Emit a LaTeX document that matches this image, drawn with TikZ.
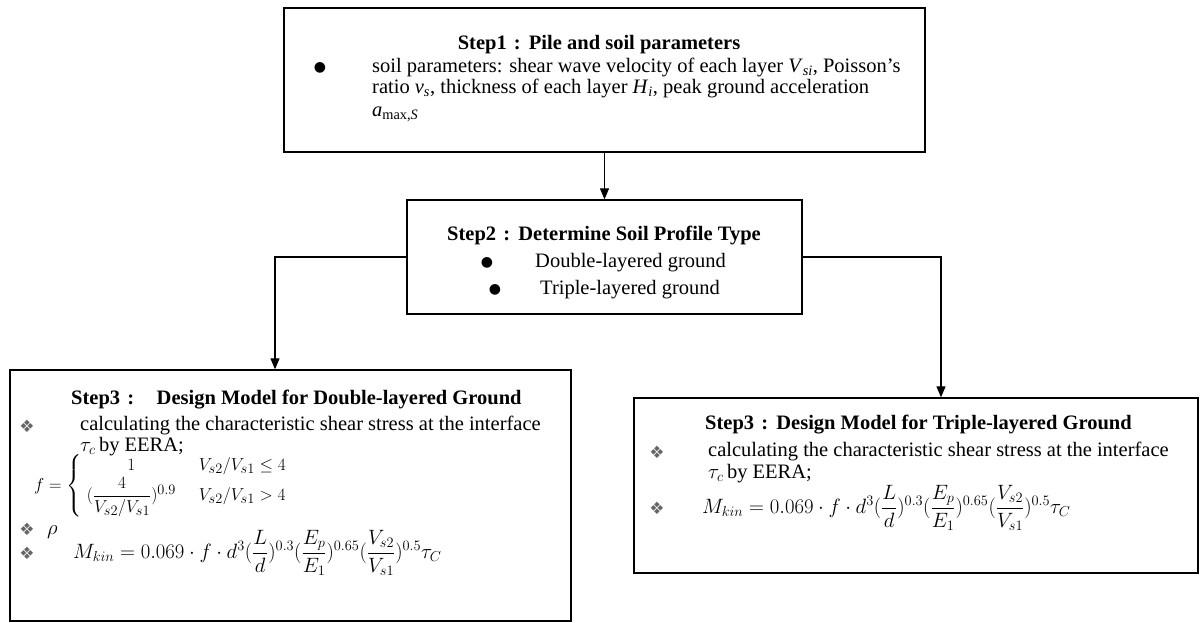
\documentclass[tikz,border=0pt]{standalone}
\usepackage{fontspec}
\setmainfont{Liberation Serif}
\newfontfamily\symfont{DejaVu Sans}
\usepackage{amsmath}
\usetikzlibrary{arrows.meta,positioning}

\begin{document}
\begin{tikzpicture}[x=1pt, y=-1pt,
                    stepbox/.style={draw, line width=1.3pt, inner sep=0pt},
                    txt/.style={anchor=west, inner sep=0pt, text height=14pt, text depth=4.5pt,
                                font=\fontsize{20.5}{22}\selectfont},
                    ttl/.style={txt, font=\fontsize{20.5}{22}\selectfont\bfseries},
                    eqn/.style={anchor=west, inner sep=0pt, font=\fontsize{20.5}{22}\selectfont},
                    dot/.style={inner sep=0pt, font=\symfont\fontsize{14}{14}\selectfont},
                    dia/.style={inner sep=0pt, text=black!60, font=\symfont\fontsize{17}{17}\selectfont},
                    flow/.style={-{Triangle[length=11pt,width=9pt]}, line width=1.1pt}]
    %\draw[help lines] (0,0) grid (1202,623);
    \useasboundingbox (0,0) rectangle (1202,623);

   % boxes
   \node[stepbox, minimum width=641pt, minimum height=144pt] (step1) at (604.5,80) {};
   \node[stepbox, minimum width=395pt, minimum height=114pt] (step2) at (604.5,257) {};
   \node[stepbox, minimum width=561pt, minimum height=251pt] (double) at (290.5,495.5) {};
   \node[stepbox, minimum width=564pt, minimum height=175pt] (triple) at (916,485.5) {};

   % Step1
   \node[ttl, anchor=center] (step1_title) at (599,45) {Step1\hspace{0.35em}:\hspace{0.4em}Pile and soil parameters};
   \node[dot] (step1_dot) at (320,68) {●};
   \node[txt] (step1_l1) at (372,68) {soil parameters: shear wave velocity of each layer \textit{V}\textsubscript{\textit{si}}, Poisson's};
   \node[txt] (step1_l2) at (372,89) {ratio \textit{v}\textsubscript{\textit{s}}, thickness of each layer \textit{H}\textsubscript{\textit{i}}, peak ground acceleration};
   \node[txt] (step1_l3) at (372,112) {\textit{a}\textsubscript{max,\textit{S}}};

   % Step2
   \node[ttl, anchor=center] (step2_title) at (604,236) {Step2\hspace{0.35em}:\hspace{0.4em}Determine Soil Profile Type};
   \node[dot] (step2_dot1) at (487,263) {●};
   \node[txt] (step2_l1) at (535,263) {Double-layered ground};
   \node[dot] (step2_dot2) at (495,290) {●};
   \node[txt] (step2_l2) at (540,290) {Triple-layered ground};

   % Step3, double-layered ground
   \node[ttl] (double_title) at (71,400) {Step3\hspace{0.35em}:\hspace{1.1em}Design Model for Double-layered Ground};
   \node[dia] (double_dia1) at (27,426) {❖};
   \node[txt] (double_l1) at (80,426) {calculating the characteristic shear stress at the interface};
   \node[txt] (double_l2) at (80,447) {$\tau_c$\,by EERA;};
   \node[eqn, font=\fontsize{19}{21}\selectfont] (double_f) at (34,486)
        {$f=\left\{\begin{array}{c@{\hspace{1.2em}}l} 1 & V_{s2}/V_{s1}\le 4\\[1pt]
                   (\dfrac{4}{V_{s2}/V_{s1}})^{0.9} & V_{s2}/V_{s1}>4 \end{array}\right.$};
   \node[dia] (double_dia2) at (27,529) {❖};
   \node[eqn] (double_rho) at (47,532) {$\rho$};
   \node[dia] (double_dia3) at (27,553) {❖};
   \node[eqn] (double_m) at (73,553)
        {$M_{kin}=0.069\cdot f\cdot d^{3}(\dfrac{L}{d})^{0.3}(\dfrac{E_p}{E_1})^{0.65}(\dfrac{V_{s2}}{V_{s1}})^{0.5}\tau_C$};

   % Step3, triple-layered ground
   \node[ttl] (triple_title) at (705,425) {Step3\hspace{0.35em}:\hspace{0.4em}Design Model for Triple-layered Ground};
   \node[dia] (triple_dia1) at (657,452) {❖};
   \node[txt] (triple_l1) at (708,452) {calculating the characteristic shear stress at the interface};
   \node[txt] (triple_l2) at (708,474) {$\tau_c$\,by EERA;};
   \node[dia] (triple_dia2) at (657,508) {❖};
   \node[eqn] (triple_m) at (702,508)
        {$M_{kin}=0.069\cdot f\cdot d^{3}(\dfrac{L}{d})^{0.3}(\dfrac{E_p}{E_1})^{0.65}(\dfrac{V_{s2}}{V_{s1}})^{0.5}\tau_C$};

   % Define transitions
   \draw[flow] (step1.south) -- (step2.north);
   \draw[flow] (step2.west) -| ([xshift=-15.5pt]double.north);
   \draw[flow] (step2.east) -| ([xshift=25pt]triple.north);

\end{tikzpicture}
\end{document}
